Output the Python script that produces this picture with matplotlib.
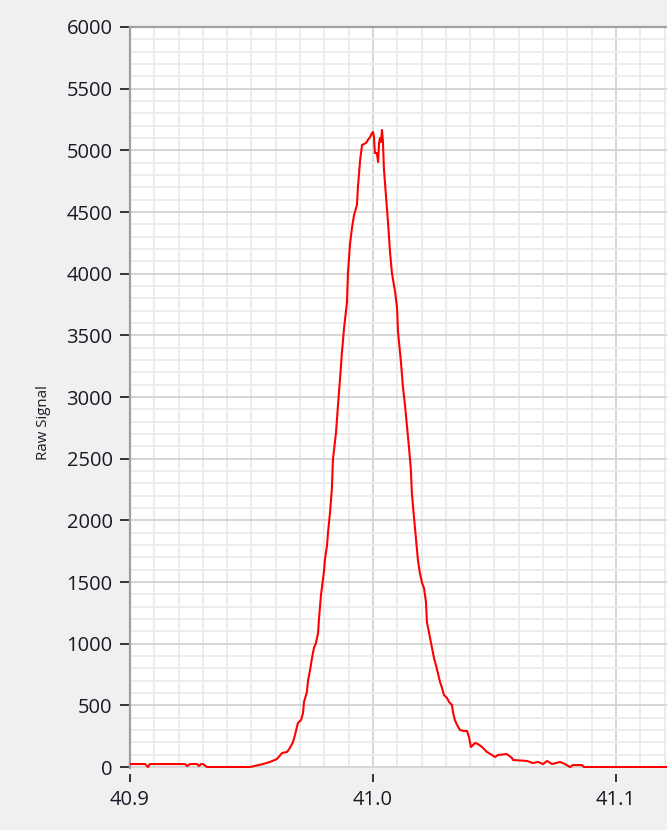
import matplotlib
matplotlib.use("Agg")
import matplotlib.pyplot as plt
from matplotlib.ticker import MultipleLocator, FormatStrFormatter

plt.rcParams['font.family'] = ['Open Sans', 'DejaVu Sans']

# Scan position and detector reading of the peak
position = [
    40.9000, 40.9062, 40.9074, 40.9082, 40.9226, 40.9235, 40.9247, 40.9276, 40.9284, 40.9292,
    40.9300, 40.9317, 40.9494, 40.9547, 40.9576, 40.9605, 40.9626, 40.9646, 40.9658, 40.9671,
    40.9679, 40.9691, 40.9704, 40.9712, 40.9716, 40.9728, 40.9733, 40.9741, 40.9749, 40.9757,
    40.9765, 40.9774, 40.9778, 40.9786, 40.9794, 40.9798, 40.9802, 40.9811, 40.9815, 40.9823,
    40.9831, 40.9835, 40.9848, 40.9856, 40.9864, 40.9872, 40.9881, 40.9893, 40.9897, 40.9905,
    40.9914, 40.9922, 40.9934, 40.9938, 40.9947, 40.9955, 40.9971, 40.9979, 40.9988, 40.9996,
    41.0000, 41.0004, 41.0008, 41.0016, 41.0021, 41.0025, 41.0029, 41.0033, 41.0037, 41.0041,
    41.0045, 41.0053, 41.0062, 41.0070, 41.0078, 41.0091, 41.0099, 41.0103, 41.0115, 41.0123,
    41.0132, 41.0140, 41.0148, 41.0156, 41.0160, 41.0169, 41.0177, 41.0185, 41.0193, 41.0202,
    41.0210, 41.0218, 41.0222, 41.0235, 41.0243, 41.0251, 41.0259, 41.0267, 41.0276, 41.0284,
    41.0292, 41.0305, 41.0313, 41.0325, 41.0329, 41.0337, 41.0346, 41.0358, 41.0374, 41.0387,
    41.0395, 41.0403, 41.0420, 41.0432, 41.0449, 41.0469, 41.0490, 41.0502, 41.0514, 41.0551,
    41.0572, 41.0576, 41.0634, 41.0658, 41.0679, 41.0700, 41.0716, 41.0737, 41.0770, 41.0790,
    41.0811, 41.0823, 41.0860, 41.0868, 41.1210,
]
raw_signal = [
    24, 24, 0, 24, 24, 8, 24, 24, 8, 24,
    24, 0, 0, 24, 41, 65, 114, 122, 154, 203,
    259, 357, 381, 438, 527, 608, 705, 786, 884, 965,
    1005, 1086, 1208, 1395, 1516, 1581, 1678, 1800, 1905, 2059,
    2262, 2489, 2716, 2935, 3138, 3357, 3559, 3770, 4005, 4232,
    4378, 4475, 4557, 4703, 4921, 5043, 5059, 5084, 5108, 5141,
    5149, 5108, 4978, 4978, 4905, 5059, 5100, 5068, 5165, 5068,
    4849, 4638, 4411, 4176, 4005, 3851, 3722, 3527, 3284, 3089,
    2927, 2765, 2595, 2408, 2222, 2019, 1849, 1678, 1573, 1492,
    1451, 1338, 1176, 1046, 965, 884, 827, 762, 689, 641,
    584, 559, 527, 503, 446, 381, 341, 300, 292, 292,
    243, 162, 195, 186, 162, 122, 97, 81, 97, 105,
    73, 57, 49, 32, 41, 24, 49, 24, 41, 24,
    0, 16, 16, 0, 0,
]

x_ticks = [40.9, 41.0, 41.1]
y_label = "Raw Signal"

W, H = 667, 830
fig = plt.figure(figsize=(W / 100, H / 100), dpi=100, facecolor='#f0f0f0')
left, top, bottom = 130, 27, 768
ax = fig.add_axes([left / W, 1 - bottom / H, 1 - left / W, (bottom - top) / H])
ax.set_facecolor('white')

ax.plot(position, raw_signal, color='#ff0000', lw=1.5, zorder=3)

ax.set_xlim(40.9, 41.121)
ax.set_ylim(-8, 6000)

ax.set_xticks(x_ticks)
ax.xaxis.set_minor_locator(MultipleLocator(0.01))
ax.yaxis.set_major_locator(MultipleLocator(500))
ax.yaxis.set_minor_locator(MultipleLocator(100))
ax.xaxis.set_major_formatter(FormatStrFormatter('%.1f'))

ax.grid(which='minor', color='#ececec', lw=1.4, zorder=0)
ax.grid(which='major', color='#d6d6d6', lw=1.4, zorder=1)
ax.set_axisbelow(True)

for side in ('right', 'bottom'):
    ax.spines[side].set_visible(False)
ax.spines['bottom'].set_position(('outward', 4))
for side in ('left', 'top'):
    ax.spines[side].set_color('#a0a0a0')
    ax.spines[side].set_linewidth(1.6)

ax.tick_params(which='minor', length=0)
ax.tick_params(axis='y', which='major', direction='out', length=7.5, width=1.4,
               color='#333333', pad=5, labelsize=14.5, labelcolor='#1a1a26')
ax.tick_params(axis='x', which='major', direction='out', length=6, width=1.4,
               color='#333333', pad=6, labelsize=14.5, labelcolor='#1a1a26')

ax.set_ylabel(y_label, fontsize=10.8, color='#1a1a26')
ax.yaxis.set_label_coords((51 - left) / (W - left), (bottom - 423) / (bottom - top))

fig.savefig('out.png', dpi=100, facecolor=fig.get_facecolor())
